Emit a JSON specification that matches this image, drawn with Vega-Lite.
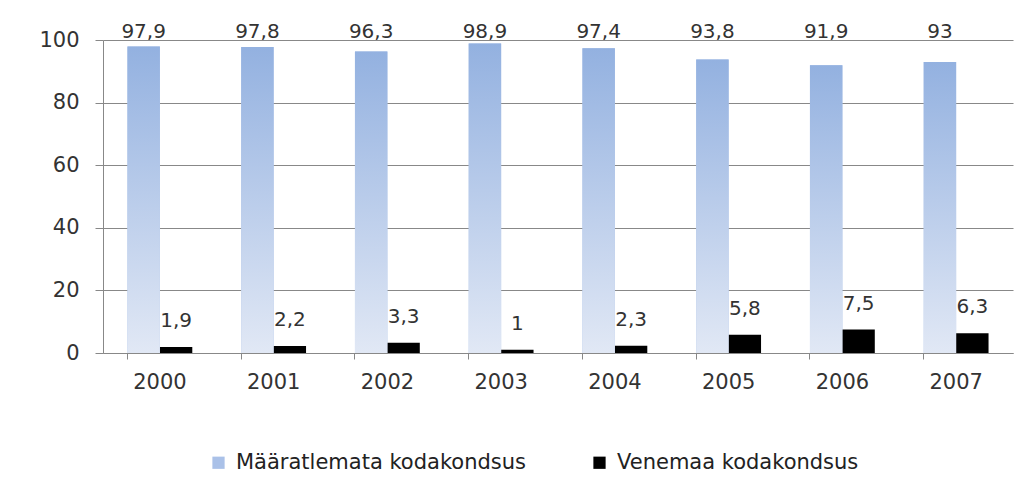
{
  "$schema": "https://vega.github.io/schema/vega-lite/v6.json",
  "autosize": "none",
  "width": 910,
  "height": 313,
  "padding": {"left": 103, "top": 40, "right": 19, "bottom": 144},
  "background": "white",
  "config": {
    "locale": {"number": {"decimal": ",", "thousands": " ", "grouping": [3], "currency": ["", " €"]}},
    "view": {"stroke": null},
    "font": "DejaVu Sans",
    "axis": {"labelFont": "DejaVu Sans", "labelFontSize": 21, "labelColor": "#333333", "domainColor": "#888888", "tickColor": "#888888", "gridColor": "#888888"},
    "legend": {"labelFont": "DejaVu Sans", "labelFontSize": 21, "labelColor": "#222222", "labelLimit": 0}
  },
  "data": {
    "values": [
      {"year": "2000", "series": "Määratlemata kodakondsus", "value": 97.9},
      {"year": "2001", "series": "Määratlemata kodakondsus", "value": 97.8},
      {"year": "2002", "series": "Määratlemata kodakondsus", "value": 96.3},
      {"year": "2003", "series": "Määratlemata kodakondsus", "value": 98.9},
      {"year": "2004", "series": "Määratlemata kodakondsus", "value": 97.4},
      {"year": "2005", "series": "Määratlemata kodakondsus", "value": 93.8},
      {"year": "2006", "series": "Määratlemata kodakondsus", "value": 91.9},
      {"year": "2007", "series": "Määratlemata kodakondsus", "value": 93},
      {"year": "2000", "series": "Venemaa kodakondsus", "value": 1.9},
      {"year": "2001", "series": "Venemaa kodakondsus", "value": 2.2},
      {"year": "2002", "series": "Venemaa kodakondsus", "value": 3.3},
      {"year": "2003", "series": "Venemaa kodakondsus", "value": 1},
      {"year": "2004", "series": "Venemaa kodakondsus", "value": 2.3},
      {"year": "2005", "series": "Venemaa kodakondsus", "value": 5.8},
      {"year": "2006", "series": "Venemaa kodakondsus", "value": 7.5},
      {"year": "2007", "series": "Venemaa kodakondsus", "value": 6.3}
    ]
  },
  "encoding": {
    "x": {
      "field": "year", "type": "nominal",
      "scale": {"paddingInner": 0.43, "paddingOuter": 0.215},
      "axis": {"title": null, "labelAngle": 0, "bandPosition": 0, "tickSize": 6, "labelPadding": 12, "grid": false, "domainWidth": 1}
    },
    "xOffset": {
      "field": "series", "type": "nominal",
      "scale": {"domain": ["Määratlemata kodakondsus", "Venemaa kodakondsus"], "paddingInner": 0}
    }
  },
  "layer": [
    {
      "mark": {"type": "bar", "stroke": null},
      "encoding": {
        "y": {
          "field": "value", "type": "quantitative",
          "scale": {"domain": [0, 100]},
          "axis": {"title": null, "values": [0, 20, 40, 60, 80, 100], "tickSize": 8, "labelPadding": 16, "grid": true, "gridWidth": 1, "domain": true}
        },
        "color": {
          "field": "series", "type": "nominal",
          "scale": {"domain": ["Määratlemata kodakondsus", "Venemaa kodakondsus"], "range": ["#aac1e8", "#000000"]},
          "legend": {"title": null, "orient": "none", "legendX": 105, "legendY": 412, "direction": "horizontal", "symbolType": "square", "symbolSize": 150, "symbolStrokeWidth": 0, "columnPadding": 62, "labelOffset": 7}
        }
      }
    },
    {
      "transform": [{"filter": "datum.series === 'Määratlemata kodakondsus'"}],
      "mark": {
        "type": "bar",
        "fill": {"gradient": "linear", "x1": 0, "y1": 0, "x2": 0, "y2": 1, "stops": [{"offset": 0, "color": "#93b1e0"}, {"offset": 1, "color": "#e1e8f5"}]}
      },
      "encoding": {
        "y": {"field": "value", "type": "quantitative"}
      }
    },
    {
      "transform": [{"filter": "datum.series === 'Määratlemata kodakondsus'"}],
      "mark": {"type": "text", "baseline": "bottom", "dy": 2, "fontSize": 20, "color": "#333333"},
      "encoding": {
        "y": {"datum": 100},
        "text": {"field": "value", "type": "quantitative", "format": ".1~f"}
      }
    },
    {
      "transform": [{"filter": "datum.series === 'Venemaa kodakondsus'"}],
      "mark": {"type": "text", "baseline": "bottom", "dy": -16, "fontSize": 20, "color": "#333333"},
      "encoding": {
        "y": {"field": "value", "type": "quantitative"},
        "text": {"field": "value", "type": "quantitative", "format": ".1~f"}
      }
    }
  ]
}
